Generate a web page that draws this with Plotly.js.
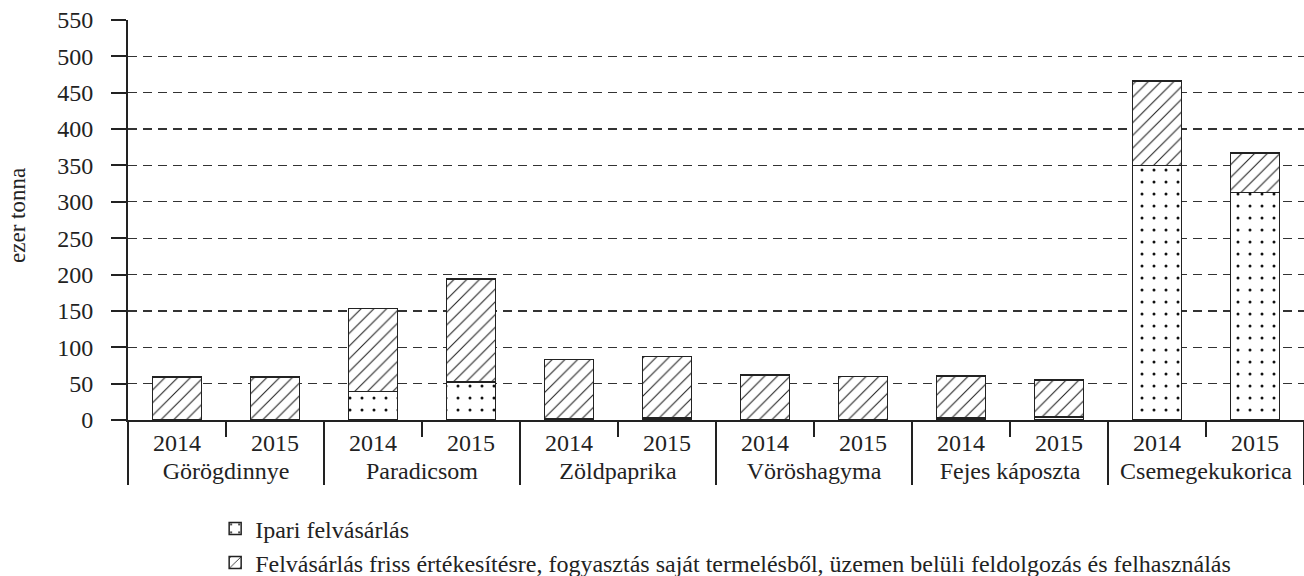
<!DOCTYPE html>
<html>
<head>
<meta charset="utf-8">
<script src="https://cdn.plot.ly/plotly-3.0.1.min.js"></script>
<style>html,body{margin:0;padding:0;background:#fff;}#chart{width:1304px;height:576px;}</style>
</head>
<body>
<div id="chart"></div>
<script>
const groups = ["Görögdinnye","Görögdinnye","Paradicsom","Paradicsom","Zöldpaprika","Zöldpaprika","Vöröshagyma","Vöröshagyma","Fejes káposzta","Fejes káposzta","Csemegekukorica","Csemegekukorica"];
const years = ["2014","2015","2014","2015","2014","2015","2014","2015","2014","2015","2014","2015"];
const ipari = [0, 0, 39, 52, 2, 3, 0, 0, 3, 4, 350, 313];
const friss = [59, 59, 114, 142, 81.5, 84, 62, 60, 57.7, 50.7, 116, 54];
const seriesNames = ["Ipari felvásárlás","Felvásárlás friss értékesítésre, fogyasztás saját termelésből, üzemen belüli feldolgozás és felhasználás"];
const yTitle = "ezer tonna";

const FONT = "'Liberation Serif', 'Times New Roman', Times, serif";
const traces = [
  {type:"bar", name:seriesNames[0], x:[groups, years], y:ipari,
   marker:{color:"#ffffff", line:{color:"#222", width:1.5},
     pattern:{shape:".", fgcolor:"#111", bgcolor:"#ffffff", size:12, solidity:0.05}}},
  {type:"bar", name:seriesNames[1], x:[groups, years], y:friss,
   marker:{color:"#ffffff", line:{color:"#222", width:1.5},
     pattern:{shape:"/", fgcolor:"#222", bgcolor:"#ffffff", size:9, solidity:0.12}}}
];
const layout = {
  width:1304, height:576,
  margin:{l:128, r:0, t:20, b:156, autoexpand:false},
  paper_bgcolor:"#fff", plot_bgcolor:"#fff",
  barmode:"stack", bargap:0.5,
  font:{family:FONT, size:24, color:"#222"},
  showlegend:true,
  legend:{orientation:"v", xref:"container", yref:"container", x:0.165, y:0.121,
    xanchor:"left", yanchor:"top",
    traceorder:"normal", font:{family:FONT, size:24, color:"#222"}, tracegroupgap:0},
  xaxis:{type:"multicategory", showline:true, linecolor:"#222", linewidth:2,
    ticks:"outside", tickson:"boundaries", ticklen:15, tickwidth:2, tickcolor:"#222",
    showdividers:true, dividercolor:"#222", dividerwidth:2,
    showgrid:false, zeroline:false, tickfont:{family:FONT, size:24, color:"#222"}},
  yaxis:{range:[0,550], dtick:50, tick0:0, showline:true, linecolor:"#222", linewidth:2,
    ticks:"outside", ticklen:15, tickwidth:2, tickcolor:"#222", ticklabelstandoff:13,
    showgrid:true, gridcolor:"#333", gridwidth:1.2, griddash:"9px,6px", zeroline:false,
    tickfont:{family:FONT, size:24, color:"#222"}},
  annotations:[{text:yTitle, xref:"paper", yref:"paper", x:-0.0944, y:0.5125,
    xanchor:"center", yanchor:"middle", textangle:-90, showarrow:false,
    font:{family:FONT, size:23, color:"#222"}}]
};
Plotly.newPlot("chart", traces, layout, {displayModeBar:false, staticPlot:true});
</script>
</body>
</html>
